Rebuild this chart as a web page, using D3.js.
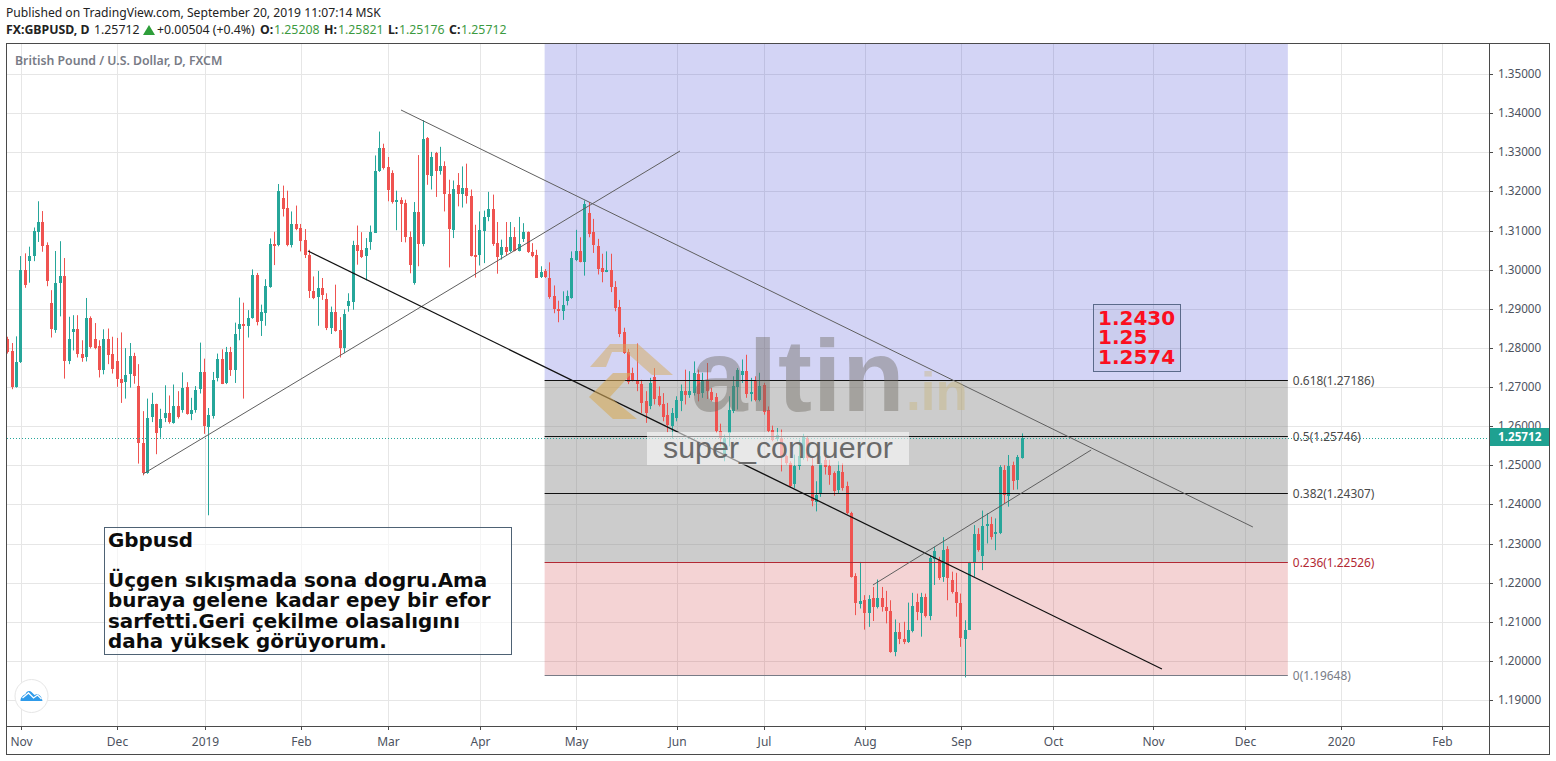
<!DOCTYPE html>
<html>
<head>
<meta charset="utf-8">
<script src="https://cdn.jsdelivr.net/npm/d3@7"></script>
<style>
    html, body { margin: 0; padding: 0; background: #fff; }
    svg { display: block; }
    text { font-family: "Noto Sans", sans-serif; }
</style>
</head>
<body>
<div id="chart-container"></div>
<script>
// Daily GBPUSD candles, oldest first
const opens = [1.2822,1.2792,1.2701,1.2765,1.2999,1.3023,1.3035,1.3097,1.3123,1.3063,
    1.2914,1.2846,1.2967,1.2985,1.2766,1.2841,1.2848,1.2786,1.2776,1.2876,
    1.2823,1.2805,1.2743,1.2823,1.2784,1.2766,1.2722,1.2713,1.2732,1.2779,
    1.2704,1.2558,1.2481,1.2622,1.2656,1.2598,1.2619,1.2633,1.2609,1.2653,
    1.2643,1.2701,1.2633,1.2641,1.2694,1.2738,1.2600,1.2628,1.2724,1.2773,
    1.2709,1.2789,1.2743,1.2849,1.2861,1.2858,1.2877,1.2986,1.2869,1.2890,
    1.2956,1.3067,1.3062,1.3183,1.3158,1.3064,1.3117,1.3107,1.3075,1.3038,
    1.2946,1.2929,1.2953,1.2925,1.2851,1.2893,1.2846,1.2800,1.2908,1.2919,
    1.3064,1.3051,1.3034,1.3071,1.3095,1.3252,1.3310,1.3263,1.3246,1.3175,
    1.3179,1.3171,1.3084,1.2966,1.3148,1.3066,1.3336,1.3241,1.3299,1.3253,
    1.3266,1.3194,1.3102,1.3217,1.3194,1.3209,1.3189,1.3038,1.3038,1.3101,
    1.3135,1.3156,1.3068,1.3038,1.3059,1.3049,1.3084,1.3049,1.3079,1.3096,
    1.3045,1.3038,1.2980,1.2996,1.2979,1.2932,1.2900,1.2894,1.2919,1.2928,
    1.3026,1.3049,1.3022,1.3145,1.3096,1.3062,1.3005,1.2996,1.3000,1.2957,
    1.2904,1.2841,1.2789,1.2737,1.2718,1.2709,1.2664,1.2651,1.2726,1.2677,
    1.2658,1.2628,1.2602,1.2622,1.2664,1.2690,1.2681,1.2685,1.2735,1.2685,
    1.2719,1.2688,1.2675,1.2587,1.2524,1.2583,1.2639,1.2702,1.2732,1.2741,
    1.2683,1.2719,1.2667,1.2707,1.2643,1.2592,1.2570,1.2570,1.2524,1.2506,
    1.2451,1.2498,1.2519,1.2570,1.2498,1.2408,1.2426,1.2515,1.2500,1.2481,
    1.2437,1.2484,1.2448,1.2380,1.2218,1.2146,1.2156,1.2122,1.2161,1.2137,
    1.2161,1.2139,1.2129,1.2024,1.2074,1.2058,1.2050,1.2077,1.2152,1.2124,
    1.2165,1.2116,1.2263,1.2259,1.2214,1.2286,1.2209,1.2178,1.2148,1.2058,
    1.2081,1.2252,1.2325,1.2269,1.2346,1.2351,1.2329,1.2329,1.2489,1.2422,
    1.2501,1.2461,1.25208];

const closes = [1.2790,1.2699,1.2765,1.2999,1.2961,1.3036,1.3099,1.3123,1.3061,1.2971,
    1.2847,1.2967,1.2985,1.2767,1.2823,1.2848,1.2784,1.2775,1.2876,1.2803,
    1.2801,1.2743,1.2823,1.2782,1.2746,1.2720,1.2713,1.2732,1.2779,1.2729,
    1.2558,1.2482,1.2622,1.2656,1.2581,1.2620,1.2633,1.2609,1.2653,1.2624,
    1.2699,1.2633,1.2643,1.2692,1.2738,1.2600,1.2630,1.2719,1.2773,1.2709,
    1.2789,1.2743,1.2835,1.2861,1.2859,1.2878,1.2986,1.2867,1.2891,1.2958,
    1.3067,1.3061,1.3200,1.3156,1.3064,1.3117,1.3104,1.3075,1.3036,1.2945,
    1.2928,1.2953,1.2936,1.2851,1.2893,1.2845,1.2800,1.2886,1.2921,1.3064,
    1.3049,1.3034,1.3055,1.3096,1.3253,1.3310,1.3260,1.3205,1.3173,1.3179,
    1.3169,1.3083,1.3013,1.3148,1.3066,1.3334,1.3241,1.3289,1.3253,1.3266,
    1.3194,1.3105,1.3207,1.3194,1.3209,1.3188,1.3037,1.3034,1.3102,1.3136,
    1.3156,1.3066,1.3032,1.3058,1.3047,1.3084,1.3049,1.3066,1.3096,1.3044,
    1.3036,1.2980,1.2994,1.2980,1.2930,1.2898,1.2894,1.2909,1.2932,1.3031,
    1.3049,1.3022,1.3169,1.3092,1.3062,1.3002,1.2996,1.3000,1.2956,1.2904,
    1.2835,1.2788,1.2713,1.2719,1.2707,1.2660,1.2634,1.2711,1.2670,1.2653,
    1.2626,1.2602,1.2634,1.2667,1.2690,1.2681,1.2690,1.2737,1.2684,1.2719,
    1.2690,1.2668,1.2587,1.2570,1.2570,1.2643,1.2702,1.2745,1.2741,1.2681,
    1.2687,1.2668,1.2702,1.2639,1.2590,1.2566,1.2579,1.2524,1.2506,1.2447,
    1.2498,1.2524,1.2575,1.2519,1.2408,1.2426,1.2506,1.2498,1.2477,1.2434,
    1.2485,1.2442,1.2380,1.2216,1.2148,1.2154,1.2124,1.2158,1.2137,1.2161,
    1.2139,1.2129,1.2024,1.2074,1.2057,1.2050,1.2080,1.2141,1.2127,1.2165,
    1.2116,1.2263,1.2283,1.2214,1.2284,1.2212,1.2178,1.2150,1.2058,1.2081,
    1.2252,1.2325,1.2284,1.2346,1.2352,1.2318,1.2331,1.2497,1.2425,1.2499,
    1.2461,1.2521,1.25712];

const highs = [1.2829,1.2813,1.2830,1.3035,1.3042,1.3059,1.3108,1.3175,1.3150,1.3070,
    1.2948,1.3048,1.3073,1.3030,1.2880,1.2884,1.2884,1.2820,1.2928,1.2881,
    1.2864,1.2820,1.2848,1.2850,1.2829,1.2826,1.2840,1.2800,1.2813,1.2788,
    1.2759,1.2639,1.2671,1.2686,1.2658,1.2645,1.2705,1.2679,1.2707,1.2690,
    1.2738,1.2713,1.2673,1.2703,1.2814,1.2773,1.2647,1.2739,1.2786,1.2797,
    1.2803,1.2803,1.2865,1.2929,1.2916,1.2897,1.3001,1.2992,1.2911,1.2976,
    1.3080,1.3097,1.3219,1.3215,1.3202,1.3149,1.3164,1.3117,1.3104,1.3051,
    1.2983,1.2997,1.2979,1.2940,1.2906,1.2962,1.2879,1.2899,1.2940,1.3074,
    1.3113,1.3096,1.3081,1.3113,1.3292,1.3353,1.3322,1.3288,1.3254,1.3202,
    1.3185,1.3179,1.3098,1.3173,1.3293,1.3382,1.3339,1.3301,1.3301,1.3314,
    1.3277,1.3230,1.3228,1.3247,1.3264,1.3271,1.3205,1.3115,1.3149,1.3151,
    1.3199,1.3192,1.3122,1.3077,1.3122,1.3122,1.3109,1.3135,1.3119,1.3098,
    1.3068,1.3051,1.3009,1.3002,1.3019,1.2960,1.2921,1.2945,1.2947,1.3047,
    1.3102,1.3083,1.3177,1.3173,1.3130,1.3079,1.3041,1.3047,1.3041,1.2971,
    1.2923,1.2852,1.2798,1.2750,1.2812,1.2719,1.2690,1.2724,1.2749,1.2702,
    1.2685,1.2660,1.2647,1.2677,1.2707,1.2745,1.2741,1.2766,1.2745,1.2737,
    1.2762,1.2698,1.2685,1.2607,1.2579,1.2677,1.2728,1.2749,1.2771,1.2783,
    1.2724,1.2728,1.2737,1.2711,1.2651,1.2602,1.2596,1.2592,1.2528,1.2511,
    1.2528,1.2566,1.2581,1.2576,1.2524,1.2460,1.2524,1.2528,1.2515,1.2485,
    1.2511,1.2506,1.2459,1.2382,1.2225,1.2254,1.2169,1.2169,1.2190,1.2209,
    1.2190,1.2180,1.2156,1.2107,1.2098,1.2101,1.2150,1.2175,1.2173,1.2175,
    1.2173,1.2271,1.2293,1.2267,1.2317,1.2294,1.2229,1.2226,1.2173,1.2105,
    1.2254,1.2348,1.2340,1.2385,1.2378,1.2369,1.2365,1.2501,1.2501,1.2527,
    1.2510,1.2527,1.25821];

const lows = [1.2786,1.2695,1.2699,1.2762,1.2954,1.2967,1.3022,1.3071,1.3046,1.2958,
    1.2827,1.2839,1.2881,1.2722,1.2759,1.2794,1.2776,1.2765,1.2766,1.2799,
    1.2797,1.2725,1.2733,1.2759,1.2735,1.2701,1.2660,1.2671,1.2699,1.2709,
    1.2505,1.2475,1.2479,1.2611,1.2529,1.2571,1.2611,1.2607,1.2607,1.2620,
    1.2635,1.2630,1.2616,1.2635,1.2684,1.2581,1.2373,1.2620,1.2715,1.2708,
    1.2708,1.2729,1.2711,1.2820,1.2671,1.2827,1.2875,1.2858,1.2831,1.2857,
    1.2954,1.3012,1.3060,1.3136,1.3060,1.3057,1.3101,1.3047,1.3030,1.2928,
    1.2925,1.2857,1.2923,1.2846,1.2836,1.2842,1.2776,1.2787,1.2893,1.2898,
    1.3013,1.3030,1.2973,1.3051,1.3094,1.3250,1.3256,1.3175,1.3169,1.3101,
    1.3071,1.3070,1.2991,1.2962,1.3009,1.3060,1.3217,1.3205,1.3186,1.3243,
    1.3149,1.3006,1.3081,1.3162,1.3159,1.3169,1.3034,1.2980,1.3011,1.3017,
    1.3124,1.3061,1.2990,1.3026,1.3037,1.3045,1.3047,1.3047,1.3071,1.3043,
    1.3032,1.2979,1.2979,1.2979,1.2926,1.2889,1.2866,1.2872,1.2909,1.2926,
    1.3022,1.3019,1.2985,1.3083,1.3043,1.2988,1.2968,1.2994,1.2943,1.2894,
    1.2828,1.2785,1.2708,1.2715,1.2690,1.2634,1.2609,1.2644,1.2656,1.2651,
    1.2613,1.2585,1.2569,1.2613,1.2639,1.2656,1.2673,1.2679,1.2664,1.2673,
    1.2670,1.2664,1.2583,1.2549,1.2511,1.2549,1.2634,1.2643,1.2711,1.2673,
    1.2664,1.2664,1.2664,1.2630,1.2585,1.2562,1.2562,1.2485,1.2502,1.2443,
    1.2443,1.2489,1.2515,1.2511,1.2396,1.2383,1.2420,1.2477,1.2451,1.2423,
    1.2430,1.2436,1.2376,1.2214,1.2118,1.2135,1.2081,1.2088,1.2103,1.2135,
    1.2127,1.2097,1.2022,1.2013,1.2044,1.2044,1.2047,1.2074,1.2105,1.2063,
    1.2112,1.2105,1.2195,1.2208,1.2203,1.2156,1.2173,1.2114,1.2037,1.1959,
    1.2080,1.2216,1.2280,1.2233,1.2301,1.2311,1.2284,1.2325,1.2403,1.2395,
    1.2438,1.2439,1.25176];

// Price axis ticks
const priceTicks = [1.19,1.20,1.21,1.22,1.23,1.24,1.25,1.26,1.27,1.28,1.29,1.30,1.31,1.32,1.33,1.34,1.35];

// Time axis: bar number where each month starts
const monthBars = [3,25,45,67,87,108,130,153,173,196,218,239,262,283,305,328];
const monthLabels = ["Nov","Dec","2019","Feb","Mar","Apr","May","Jun","Jul","Aug","Sep","Oct","Nov","Dec","2020","Feb"];

// Fibonacci retracement levels and prices
const fibRatios = ["0","0.236","0.382","0.5","0.618"];
const fibPrices = [1.19648,1.22526,1.24307,1.25746,1.27186];
const fibColors = ["#787b86","#b22833","#111","#111","#111"];
const fibLabelColors = ["#787b86","#b22833","#4a4a4a","#4a4a4a","#4a4a4a"];
const fibStartBar = 122.9, fibEndBar = 292.9, fibTopPrice = 1.3600;

// Drawn trend lines: [bar, price] to [bar, price]
const trendLines = [
    {from: [90.05, 1.34081], to: [284.9, 1.23431], color: "#5f5f5f", width: 1},
    {from: [31.04, 1.24784], to: [153.86, 1.33033], color: "#5f5f5f", width: 1},
    {from: [68.78, 1.30479], to: [264.1, 1.19803], color: "#111", width: 1.25},
    {from: [198, 1.2195], to: [247.9, 1.25397], color: "#5f5f5f", width: 1}
];

const lastPrice = 1.25712;
const noteLines = ["Gbpusd", "", "Üçgen sıkışmada sona dogru.Ama", "buraya gelene kadar epey bir efor", "sarfetti.Geri çekilme olasalıgını", "daha yüksek görüyorum."];
const levelNotes = ["1.2430", "1.25", "1.2574"];

const teal = "#26a69a", red = "#ef5350", axisColor = "#4a4a4a", gridColor = "#e6e6e6";

function init() {
    const svg = d3.select("#chart-container")
        .append("svg")
        .attr("width", 1556)
        .attr("height", 761);

    const pane = {left: 7, top: 44, right: 1489, bottom: 726};

    // Bar number to pixel
    const x = d3.scaleLinear().domain([0, 232]).range([7.3, 1021.6]);
    const xTicks = d3.scaleLinear().domain([0, 232]).rangeRound([8, 1022]);
    const y = d3.scaleLinear().domain([1.19, 1.35]).range([700.5, 74]);
    const yTicks = d3.scaleLinear().domain([1.19, 1.35]).rangeRound([700, 74]);

    svg.append("clipPath").attr("id", "pane-clip")
        .append("rect")
        .attr("x", pane.left)
        .attr("y", pane.top)
        .attr("width", pane.right - pane.left)
        .attr("height", pane.bottom - pane.top);

    const chart = svg.append("g").attr("clip-path", "url(#pane-clip)");

    // Grid
    chart.selectAll("line.vgrid")
        .data(monthBars)
        .enter()
        .append("line")
        .attr("class", "vgrid")
        .attr("x1", d => xTicks(d) + 0.5)
        .attr("x2", d => xTicks(d) + 0.5)
        .attr("y1", pane.top)
        .attr("y2", pane.bottom)
        .style("stroke", gridColor);

    chart.selectAll("line.hgrid")
        .data(priceTicks)
        .enter()
        .append("line")
        .attr("class", "hgrid")
        .attr("x1", pane.left)
        .attr("x2", pane.right)
        .attr("y1", d => yTicks(d) + 0.5)
        .attr("y2", d => yTicks(d) + 0.5)
        .style("stroke", gridColor);

    // Fibonacci bands
    const bandTop = [fibPrices[1], fibPrices[4], fibTopPrice];
    const bandBottom = [fibPrices[0], fibPrices[1], fibPrices[4]];
    const bandFill = ["rgba(200,35,40,0.2)", "rgba(128,128,128,0.4)", "rgba(35,40,205,0.2)"];
    chart.selectAll("rect.band")
        .data(d3.range(3))
        .enter()
        .append("rect")
        .attr("class", "band")
        .attr("x", x(fibStartBar))
        .attr("width", x(fibEndBar) - x(fibStartBar))
        .attr("y", i => y(bandTop[i]))
        .attr("height", i => y(bandBottom[i]) - y(bandTop[i]))
        .style("fill", i => bandFill[i]);

    // Candles
    const bars = d3.range(opens.length);
    const barColor = i => closes[i] >= opens[i] ? teal : red;
    const snapX = i => Math.round(x(i));

    chart.selectAll("line.wick")
        .data(bars)
        .enter()
        .append("line")
        .attr("class", "wick")
        .attr("x1", i => snapX(i) + 0.5)
        .attr("x2", i => snapX(i) + 0.5)
        .attr("y1", i => y(highs[i]))
        .attr("y2", i => y(lows[i]))
        .style("stroke", barColor);

    chart.selectAll("rect.body")
        .data(bars)
        .enter()
        .append("rect")
        .attr("class", "body")
        .attr("x", i => snapX(i) - 1)
        .attr("width", 3)
        .attr("y", i => Math.round(y(Math.max(opens[i], closes[i]))))
        .attr("height", i => Math.max(2, Math.round(Math.abs(y(opens[i]) - y(closes[i])))))
        .style("fill", barColor);

    // Last price line
    chart.append("line")
        .attr("x1", pane.left)
        .attr("x2", pane.right)
        .attr("y1", Math.round(y(lastPrice)) + 0.5)
        .attr("y2", Math.round(y(lastPrice)) + 0.5)
        .style("stroke", teal)
        .style("stroke-dasharray", "1 2");

    // Fibonacci level lines
    chart.selectAll("line.fib")
        .data(fibPrices)
        .enter()
        .append("line")
        .attr("class", "fib")
        .attr("x1", x(fibStartBar))
        .attr("x2", x(fibEndBar))
        .attr("y1", d => Math.round(y(d)) + 0.5)
        .attr("y2", d => Math.round(y(d)) + 0.5)
        .style("stroke", (d, i) => fibColors[i]);

    chart.selectAll("text.fib-label")
        .data(fibPrices)
        .enter()
        .append("text")
        .attr("class", "fib-label")
        .attr("x", x(fibEndBar) + 5)
        .attr("y", d => y(d) + 5)
        .style("font-size", "11.9px")
        .style("fill", (d, i) => fibLabelColors[i])
        .text((d, i) => `${fibRatios[i]}(${d.toFixed(5)})`);

    // Trend lines
    chart.selectAll("line.trend")
        .data(trendLines)
        .enter()
        .append("line")
        .attr("class", "trend")
        .attr("x1", d => x(d.from[0]))
        .attr("y1", d => y(d.from[1]))
        .attr("x2", d => x(d.to[0]))
        .attr("y2", d => y(d.to[1]))
        .style("stroke", d => d.color)
        .style("stroke-width", d => d.width);

    // altin.in watermark
    const mark = svg.append("g");
    mark.append("polygon")
        .attr("points", "590,367 610,344 638,344 673,375 652,375 626,352 612,352 606,367")
        .style("fill", "rgba(214,170,90,0.5)");
    mark.append("polygon")
        .attr("points", "589,397 613,373 632,373 610,397 637,419 613,419")
        .style("fill", "rgba(214,170,90,0.6)");
    mark.append("text")
        .attr("x", 691)
        .attr("y", 411)
        .style("font-family", "'Liberation Sans'")
        .style("font-weight", "bold")
        .style("font-size", "102px")
        .style("letter-spacing", "1px")
        .style("fill", "rgba(110,105,95,0.42)")
        .text("altin");
    mark.append("text")
        .attr("x", 906)
        .attr("y", 410)
        .style("font-family", "'Liberation Sans'")
        .style("font-weight", "bold")
        .style("font-size", "53px")
        .style("fill", "rgba(200,180,120,0.4)")
        .text(".in");

    // Author tag
    mark.append("rect")
        .attr("x", 647)
        .attr("y", 432)
        .attr("width", 262)
        .attr("height", 33)
        .style("fill", "rgba(255,255,255,0.55)");
    mark.append("text")
        .attr("x", 663)
        .attr("y", 458)
        .style("font-family", "'Liberation Sans'")
        .style("font-size", "30.4px")
        .style("fill", "#6a6a6a")
        .text("super_conqueror");

    // Note box
    svg.append("rect")
        .attr("x", 104.5)
        .attr("y", 527.5)
        .attr("width", 407)
        .attr("height", 127)
        .style("fill", "rgba(255,255,255,0.6)")
        .style("stroke", "#4e6274");
    svg.selectAll("text.note")
        .data(noteLines)
        .enter()
        .append("text")
        .attr("class", "note")
        .attr("x", 108)
        .attr("y", (d, i) => 547 + i * 20.15)
        .style("font-family", "'DejaVu Sans'")
        .style("font-weight", "bold")
        .style("font-size", "19.9px")
        .style("fill", "#0c0c0c")
        .text(d => d);

    // Red level box
    svg.append("rect")
        .attr("x", 1093.5)
        .attr("y", 304.5)
        .attr("width", 87)
        .attr("height", 67)
        .style("fill", "rgba(120,130,170,0.08)")
        .style("stroke", "#5b6a8a");
    svg.selectAll("text.level")
        .data(levelNotes)
        .enter()
        .append("text")
        .attr("class", "level")
        .attr("x", 1098)
        .attr("y", (d, i) => 324.5 + i * 19.6)
        .style("font-family", "'DejaVu Sans'")
        .style("font-weight", "bold")
        .style("font-size", "20px")
        .style("fill", "#fb0f1f")
        .text(d => d);

    // Price axis
    const yAxis = d3.axisRight(yTicks)
        .tickValues(priceTicks)
        .tickSize(4)
        .tickPadding(5)
        .tickFormat(d3.format(".5f"));
    const yAxisG = svg.append("g")
        .attr("transform", `translate(${pane.right},0)`)
        .call(yAxis);
    yAxisG.select(".domain").remove();
    yAxisG.selectAll("line").style("stroke", axisColor);
    yAxisG.selectAll("text")
        .style("font-family", "'Noto Sans'")
        .style("font-size", "11.7px")
        .style("fill", "#4c525e");

    // Last price tag
    svg.append("rect")
        .attr("x", 1489)
        .attr("y", 428)
        .attr("width", 60)
        .attr("height", 18)
        .style("fill", "#1fa191");
    svg.append("text")
        .attr("x", 1498)
        .attr("y", 441)
        .style("font-size", "11.7px")
        .style("font-weight", "700")
        .style("fill", "#fff")
        .text(lastPrice.toFixed(5));

    // Time axis
    const xAxis = d3.axisBottom(xTicks)
        .tickValues(monthBars)
        .tickSize(4)
        .tickPadding(7)
        .tickFormat((d, i) => monthLabels[i]);
    const xAxisG = svg.append("g")
        .attr("transform", `translate(0,${pane.bottom})`)
        .call(xAxis);
    xAxisG.select(".domain").remove();
    xAxisG.selectAll("line").style("stroke", axisColor);
    xAxisG.selectAll("text")
        .style("font-family", "'Noto Sans'")
        .style("font-size", "12px")
        .style("fill", "#4c525e");

    // Frame
    svg.append("rect")
        .attr("x", 6.5)
        .attr("y", 43.5)
        .attr("width", 1543)
        .attr("height", 711)
        .style("fill", "none")
        .style("stroke", axisColor);
    svg.append("line")
        .attr("x1", 1489.5).attr("x2", 1489.5)
        .attr("y1", 43.5).attr("y2", 754.5)
        .style("stroke", axisColor);
    svg.append("line")
        .attr("x1", 6.5).attr("x2", 1549.5)
        .attr("y1", 726.5).attr("y2", 726.5)
        .style("stroke", axisColor);

    // TradingView badge
    const badge = svg.append("g").attr("transform", "translate(31.5,696)");
    badge.append("circle")
        .attr("r", 16.5)
        .style("fill", "#fff")
        .style("stroke", "#e6e6e6");
    badge.append("path")
        .attr("d", "M-11,5 C-11,1 -8,-1 -6,-2 C-5,-5 -2,-6 0,-4 L3,-1 C6,-3 10,-1 11,5 Z")
        .style("fill", "#2f9bea");
    badge.append("path")
        .attr("d", "M-9,2 L-3,-3 L2,2 L6,-1 L10,3")
        .style("fill", "none")
        .style("stroke", "#fff")
        .style("stroke-width", 1.3);

    // Header lines
    svg.append("text")
        .attr("x", 6)
        .attr("y", 17)
        .style("font-size", "12.15px")
        .style("fill", "#222")
        .text("Published on TradingView.com, September 20, 2019 11:07:14 MSK");

    const header = [
        {x: 6, t: "FX:GBPUSD, D", b: true, c: "#222"},
        {x: 94, t: "1.25712", b: false, c: "#222"},
        {x: 157, t: "+0.00504 (+0.4%)", b: false, c: "#222"},
        {x: 260, t: "O:", b: true, c: "#222"},
        {x: 274, t: "1.25208", b: false, c: "#3c9a3f"},
        {x: 324, t: "H:", b: true, c: "#222"},
        {x: 338, t: "1.25821", b: false, c: "#3c9a3f"},
        {x: 388, t: "L:", b: true, c: "#222"},
        {x: 399, t: "1.25176", b: false, c: "#3c9a3f"},
        {x: 449, t: "C:", b: true, c: "#222"},
        {x: 461, t: "1.25712", b: false, c: "#3c9a3f"}
    ];
    svg.selectAll("text.head")
        .data(header)
        .enter()
        .append("text")
        .attr("class", "head")
        .attr("x", d => d.x)
        .attr("y", 34)
        .style("font-size", "12.3px")
        .style("font-weight", d => d.b ? "bold" : "normal")
        .style("fill", d => d.c)
        .text(d => d.t);
    svg.append("path")
        .attr("d", "M143,35 L149,25 L155,35 Z")
        .style("fill", "#2e9e3a");

    // Symbol title in the pane
    svg.append("text")
        .attr("x", 15)
        .attr("y", 65)
        .style("font-size", "12.3px")
        .style("font-weight", "600")
        .style("fill", "#787b86")
        .text("British Pound / U.S. Dollar, D, FXCM");
}

window.onload = init;
</script>
</body>
</html>
